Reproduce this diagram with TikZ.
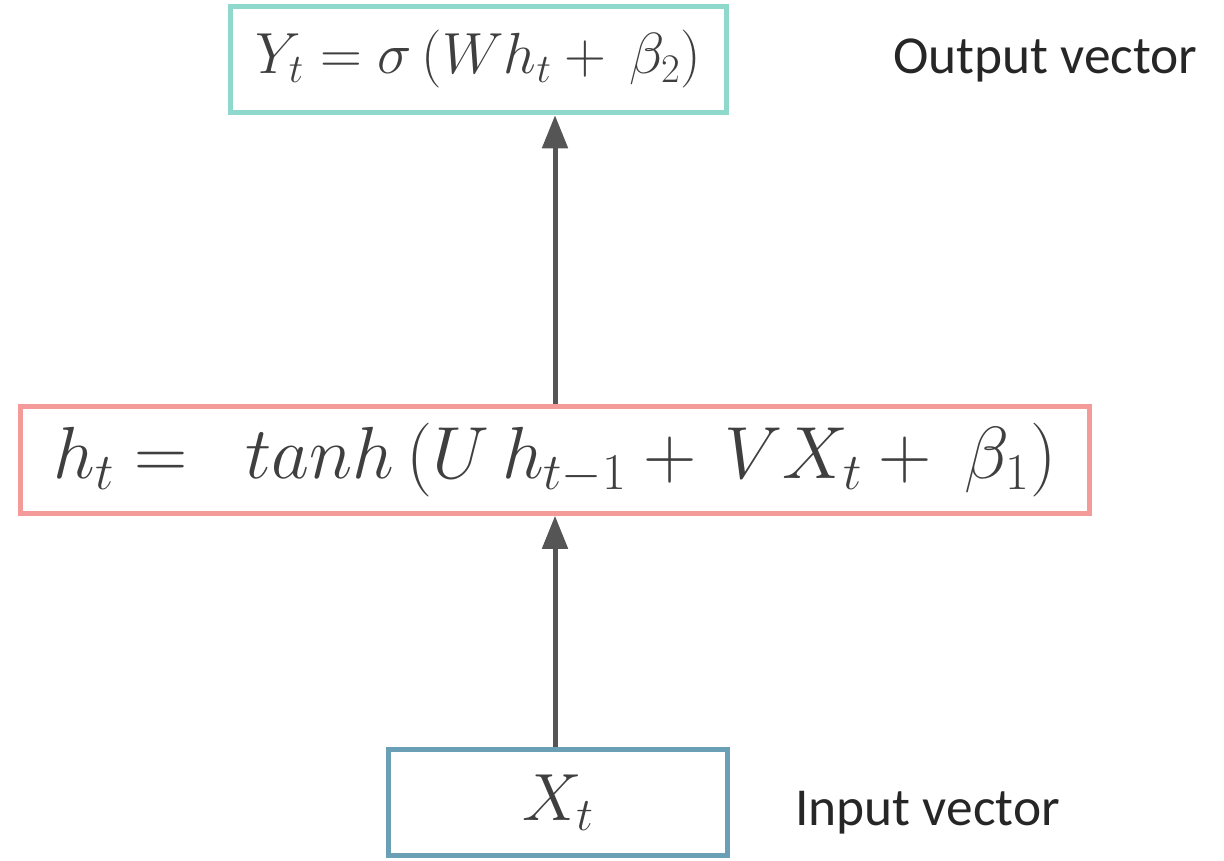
\RequirePackage{fix-cm}
\documentclass[tikz,border=0pt]{standalone}
\usepackage{amsmath}
\usepackage{fontspec}
\setmainfont{Carlito}
\usetikzlibrary{arrows.meta, positioning}
\definecolor{outcol}{HTML}{8ED9CB}
\definecolor{hidcol}{HTML}{F49A98}
\definecolor{incol}{HTML}{6A9FB5}
\definecolor{arrcol}{HTML}{555555}
\definecolor{eqcol}{HTML}{3F3F3F}

\begin{document}
\begin{tikzpicture}[
  layer/.style={draw, line width=1mm, text=eqcol, inner sep=0pt,
                minimum height=2.13cm, font=\fontsize{38}{46}\selectfont},
  tag/.style={anchor=west, text=black!85, font=\fontsize{30.4}{36}\selectfont},
  >={Triangle[length=6.6mm, width=5mm]}
]
\useasboundingbox (0,0) rectangle (24.48,-17.2);
\node[layer, draw=outcol, minimum width=9.92cm, font=\fontsize{33}{40}\selectfont]
  (output) at (9.57,-1.19) {$Y_t = \sigma\,(W h_t + \,\beta_2)$};
\node[layer, draw=hidcol, minimum width=21.38cm, font=\fontsize{42}{50}\selectfont]
  (hidden) at (11.1,-9.2) {$h_t = \;\ tanh\,(U\,h_{t-1} + \,VX_t + \ \beta_1)$};
\node[layer, draw=incol, minimum width=6.78cm] (input) at (11.16,-16.05)
  {$X_t$};
\node[tag] (outlbl) at (17.74,-1.2) {Output vector};
\node[tag] (inlbl) at (15.78,-16.26) {Input vector};
\draw[->, arrcol, line width=1mm] (input.north -| hidden.center) -- (hidden.south);
\draw[->, arrcol, line width=1mm] (hidden.north) -- (hidden.north |- output.south);
\end{tikzpicture}
\end{document}
